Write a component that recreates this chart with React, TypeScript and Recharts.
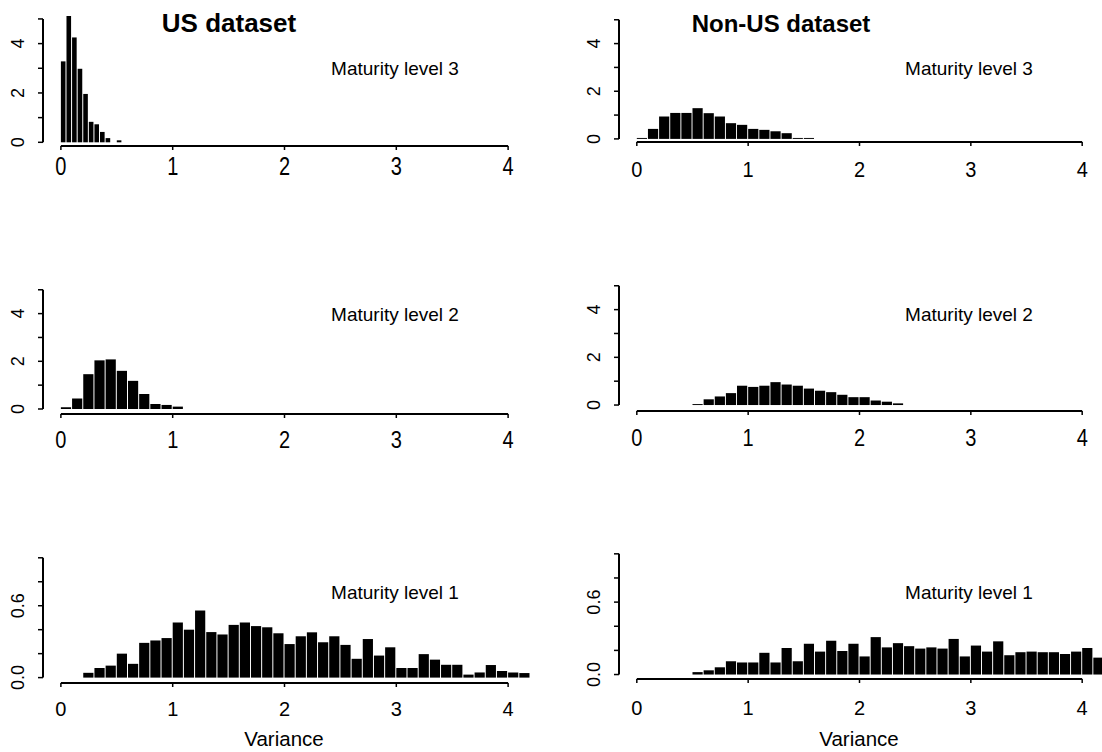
import React from 'react';
import { BarChart, Bar, XAxis, YAxis, ReferenceLine } from 'recharts';

// density histograms, one value per bin
const usL3Start = 0;
const usL3Width = 0.05;
const usL3 = [3.28, 5.12, 4.25, 2.98, 1.96, 0.83, 0.73, 0.42, 0.17, 0, 0.08];

const usL2Start = 0;
const usL2Width = 0.1;
const usL2 = [0.07, 0.44, 1.46, 2.04, 2.08, 1.6, 1.18, 0.63, 0.21, 0.17, 0.1];

const usL1Start = 0.2;
const usL1Width = 0.1;
const usL1 = [
  0.04, 0.08, 0.1, 0.2, 0.115, 0.29, 0.31, 0.33, 0.46, 0.4,
  0.56, 0.38, 0.36, 0.44, 0.46, 0.43, 0.42, 0.37, 0.28, 0.345,
  0.378, 0.295, 0.345, 0.273, 0.157, 0.322, 0.184, 0.253, 0.08, 0.08,
  0.196, 0.15, 0.107, 0.107, 0.025, 0.043, 0.105, 0.055, 0.042, 0.038,
];

const nonUsL3Start = 0;
const nonUsL3Width = 0.1;
const nonUsL3 = [0.04, 0.42, 0.94, 1.09, 1.09, 1.29, 1.08, 0.94, 0.66, 0.59, 0.42, 0.38, 0.32, 0.24, 0.04, 0.04];

const nonUsL2Start = 0.5;
const nonUsL2Width = 0.1;
const nonUsL2 = [0.04, 0.24, 0.36, 0.5, 0.81, 0.76, 0.81, 0.96, 0.86, 0.81, 0.69, 0.6, 0.54, 0.43, 0.33, 0.33, 0.19, 0.14, 0.07];

const nonUsL1Start = 0.5;
const nonUsL1Width = 0.1;
const nonUsL1 = [
  0.02, 0.035, 0.06, 0.11, 0.1, 0.1, 0.18, 0.1, 0.22, 0.11,
  0.255, 0.19, 0.28, 0.195, 0.255, 0.15, 0.31, 0.225, 0.26, 0.235,
  0.215, 0.225, 0.215, 0.295, 0.15, 0.24, 0.19, 0.275, 0.16, 0.185,
  0.19, 0.185, 0.185, 0.17, 0.19, 0.22, 0.14,
];

const xTicks = [0, 1, 2, 3, 4];
const yTicksBig = [0, 1, 2, 3, 4, 5];
const yLabelsBig = [0, 2, 4];
const yTicksSmall = [0, 0.2, 0.4, 0.6, 0.8, 1.0];
const yLabelsSmall = [0, 0.6];

const titles = ['US dataset', 'Non-US dataset'];
const levelLabels = ['Maturity level 3', 'Maturity level 2', 'Maturity level 1'];
const xLabel = 'Variance';

const FONT = '"Liberation Sans", Arial, sans-serif';
const TICK_FONT = '"Liberation Sans Narrow", "Arial Narrow", "Liberation Sans", Arial, sans-serif';

const toBins = (start: number, width: number, dens: number[]) =>
  dens.map((d, i) => ({ x: Number((start + (i + 0.5) * width).toFixed(4)), d }));

interface PanelCfg {
  data: { x: number; d: number }[];
  left: number;
  plotLeft: number;
  plotWidth: number;
  plotTop: number;
  plotHeight: number;
  yDomain: [number, number];
  yTicks: number[];
  yLabels: number[];
  digits: number;
  barSize: number;
  labelDy: number;
  labelScale: number;
}

const leftCol = { left: 0, plotLeft: 43, plotWidth: 483 };
const rightCol = { left: 560, plotLeft: 619, plotWidth: 481 };

const panels: PanelCfg[] = [
  { ...leftCol, data: toBins(usL3Start, usL3Width, usL3), plotTop: 14, plotHeight: 132, yDomain: [-0.15, 5.2], yTicks: yTicksBig, yLabels: yLabelsBig, digits: 0, barSize: 4.6, labelDy: 29, labelScale: 1.25 },
  { ...rightCol, data: toBins(nonUsL3Start, nonUsL3Width, nonUsL3), plotTop: 15, plotHeight: 127, yDomain: [-0.13, 5.2], yTicks: yTicksBig, yLabels: yLabelsBig, digits: 0, barSize: 10.2, labelDy: 35, labelScale: 1.1 },
  { ...leftCol, data: toBins(usL2Start, usL2Width, usL2), plotTop: 284.5, plotHeight: 129, yDomain: [-0.21, 5.2], yTicks: yTicksBig, yLabels: yLabelsBig, digits: 0, barSize: 10.2, labelDy: 34, labelScale: 1.15 },
  { ...rightCol, data: toBins(nonUsL2Start, nonUsL2Width, nonUsL2), plotTop: 281, plotHeight: 130, yDomain: [-0.25, 5.2], yTicks: yTicksBig, yLabels: yLabelsBig, digits: 0, barSize: 10.2, labelDy: 35, labelScale: 1.15 },
  { ...leftCol, data: toBins(usL1Start, usL1Width, usL1), plotTop: 552.5, plotHeight: 130, yDomain: [-0.045, 1.04], yTicks: yTicksSmall, yLabels: yLabelsSmall, digits: 1, barSize: 10.2, labelDy: 33, labelScale: 1 },
  { ...rightCol, data: toBins(nonUsL1Start, nonUsL1Width, nonUsL1), plotTop: 549, plotHeight: 130, yDomain: [-0.037, 1.04], yTicks: yTicksSmall, yLabels: yLabelsSmall, digits: 1, barSize: 10.2, labelDy: 36, labelScale: 1 },
];

function Panel({ p }: { p: PanelCfg }) {
  const top = p.plotTop - 10;
  const yAxisW = 40;
  const width = p.left === 0 ? 540 : 542;
  const ml = p.plotLeft - p.left - yAxisW;
  const mr = width - ml - yAxisW - p.plotWidth;
  const lo = p.yDomain[0];
  const yMax = p.yTicks[p.yTicks.length - 1];

  return (
    <div style={{ position: 'absolute', left: p.left, top }}>
      <BarChart
        width={width}
        height={10 + p.plotHeight + 50}
        data={p.data}
        margin={{ top: 10, right: mr, bottom: 0, left: ml }}
      >
        <XAxis
          type="number"
          dataKey="x"
          domain={[-0.16, 4.16]}
          ticks={xTicks}
          interval={0}
          height={50}
          axisLine={false}
          tickSize={4}
          tickMargin={0}
          tickLine={{ stroke: '#000', strokeWidth: 1.5 }}
          tick={(t: any) => (
            <text
              transform={`translate(${t.x},${t.y - 4 + p.labelDy}) scale(1,${p.labelScale})`}
              textAnchor="middle"
              fontFamily={TICK_FONT}
              fontSize={20}
              fill="#000"
            >
              {t.payload.value}
            </text>
          )}
        />
        <YAxis
          type="number"
          domain={p.yDomain}
          ticks={p.yTicks}
          interval={0}
          width={yAxisW}
          axisLine={false}
          tickSize={5}
          tickMargin={0}
          tickLine={{ stroke: '#000', strokeWidth: 1.5 }}
          tick={(t: any) =>
            p.yLabels.includes(t.payload.value) ? (
              <text
                transform={`translate(${t.x - 20.5},${t.y}) rotate(-90)`}
                textAnchor="middle"
                dominantBaseline="central"
                fontFamily={TICK_FONT}
                fontSize={18}
                fill="#000"
              >
                {Number(t.payload.value).toFixed(p.digits)}
              </text>
            ) : (
              <g />
            )
          }
        />
        <Bar dataKey="d" fill="#000" barSize={p.barSize} isAnimationActive={false} />
        <ReferenceLine
          segment={[{ x: -0.16, y: 0 }, { x: -0.16, y: yMax }]}
          stroke="#000"
          strokeWidth={2}
          ifOverflow="visible"
        />
        <ReferenceLine
          segment={[{ x: 0, y: lo }, { x: 4, y: lo }]}
          stroke="#000"
          strokeWidth={2}
          ifOverflow="visible"
        />
      </BarChart>
    </div>
  );
}

export default function App() {
  return (
    <div style={{ position: 'absolute', left: 0, top: 0, width: 1102, height: 752, background: '#fff' }}>
      {panels.map((p, i) => (
        <Panel key={i} p={p} />
      ))}
      <svg width={1102} height={752} style={{ position: 'absolute', left: 0, top: 0, pointerEvents: 'none' }}>
        <text x={229} y={32} textAnchor="middle" fontFamily={FONT} fontWeight="bold" fontSize={26}>
          {titles[0]}
        </text>
        <text x={781} y={32} textAnchor="middle" fontFamily={FONT} fontWeight="bold" fontSize={24}>
          {titles[1]}
        </text>
        {[75, 321, 599].map((yy, r) => (
          <g key={r}>
            <text x={395} y={yy} textAnchor="middle" fontFamily={FONT} fontSize={19}>
              {levelLabels[r]}
            </text>
            <text x={969} y={yy} textAnchor="middle" fontFamily={FONT} fontSize={19}>
              {levelLabels[r]}
            </text>
          </g>
        ))}
        <text x={284} y={746} textAnchor="middle" fontFamily={FONT} fontSize={20.5}>
          {xLabel}
        </text>
        <text x={859} y={746} textAnchor="middle" fontFamily={FONT} fontSize={20.5}>
          {xLabel}
        </text>
      </svg>
    </div>
  );
}
